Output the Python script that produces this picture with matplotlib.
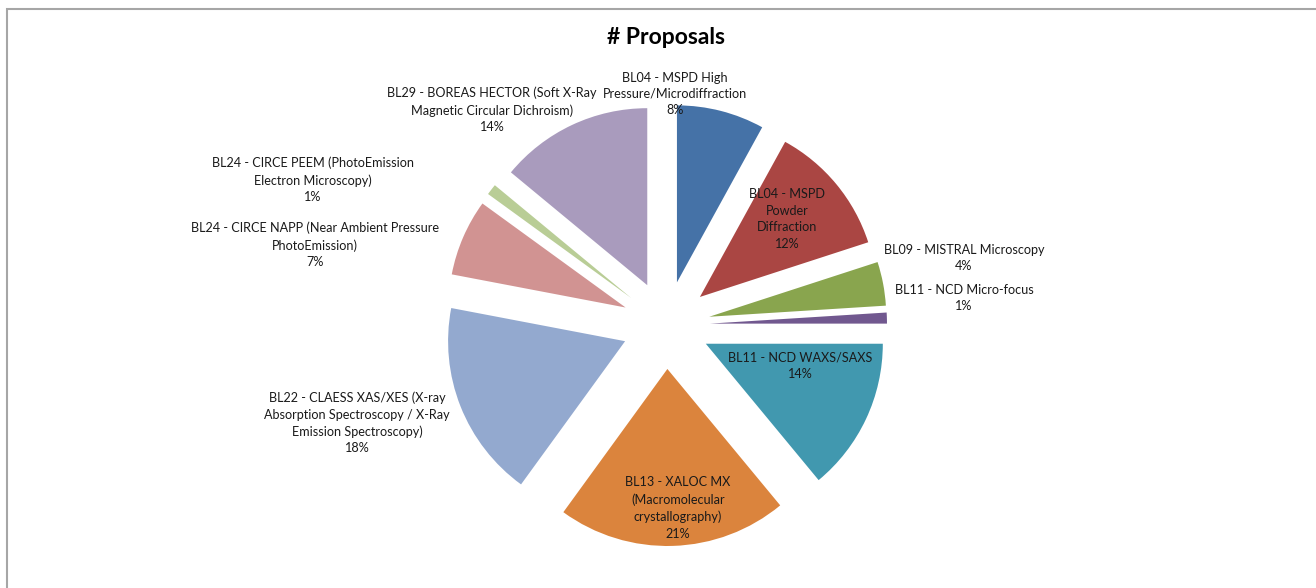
import matplotlib.pyplot as plt
from matplotlib.patches import Rectangle

labels = ['BL04 - MSPD High\nPressure/Microdiffraction',
          'BL04 - MSPD\nPowder\nDiffraction',
          'BL09 - MISTRAL Microscopy',
          'BL11 - NCD Micro-focus',
          'BL11 - NCD WAXS/SAXS',
          'BL13 - XALOC MX\n(Macromolecular\ncrystallography)',
          'BL22 - CLAESS XAS/XES (X-ray\nAbsorption Spectroscopy / X-Ray\nEmission Spectroscopy)',
          'BL24 - CIRCE NAPP (Near Ambient Pressure\nPhotoEmission)',
          'BL24 - CIRCE PEEM (PhotoEmission\nElectron Microscopy)',
          'BL29 - BOREAS HECTOR (Soft X-Ray\nMagnetic Circular Dichroism)']
shares = [8, 12, 4, 1, 14, 21, 18, 7, 1, 14]
colors = ['#4572A7', '#AA4643', '#89A54E', '#71588F', '#4198AF',
          '#DB843D', '#93A9CF', '#D19392', '#B9CD96', '#A99BBD']

# label block centres in pixels (x, y from top)
label_pos = [(675, 94), (787, 219), (964, 258), (964, 298), (800, 366),
             (678, 508), (357, 423), (315, 245), (313, 180), (492, 110)]

W, H = 1316, 588
plt.rcParams['font.family'] = ['Lato', 'DejaVu Sans']

fig = plt.figure(figsize=(W / 100, H / 100), dpi=100)
ax = fig.add_axes([0, 0, 1, 1])

cx, cy, r, ex = 666, H - 325, 177, 44
ax.pie(shares, colors=colors, startangle=90, counterclock=False,
       radius=r, center=(cx, cy), explode=[ex] * len(shares),
       wedgeprops=dict(linewidth=0))

for lab, val, (x, y) in zip(labels, shares, label_pos):
    ax.text(x, H - y, '%s\n%d%%' % (lab, val), ha='center', va='center',
            fontsize=9.1, color='#1a1a1a', linespacing=1.45)

ax.text(666, H - 38, '# Proposals', ha='center', va='center',
        fontsize=16.5, fontweight='bold', color='black')

ax.add_patch(Rectangle((7, -20), W + 40, H - 9 + 20, fill=False,
                       edgecolor='#a6a6a6', linewidth=1.5, clip_on=False))

ax.set_xlim(0, W)
ax.set_ylim(0, H)
ax.set_aspect('equal')
ax.axis('off')

fig.savefig('out.png', dpi=100)
